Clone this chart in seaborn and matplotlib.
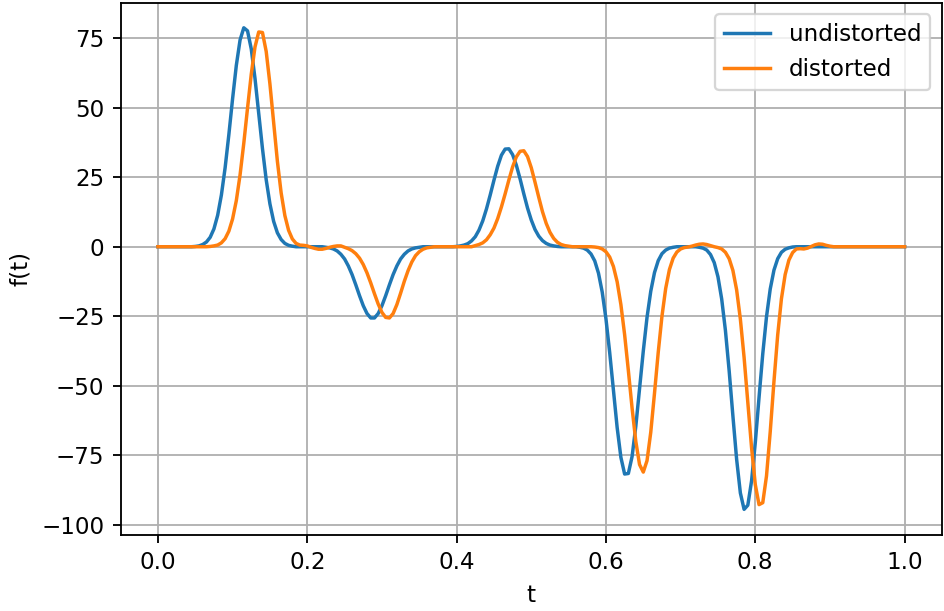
import numpy as np
import matplotlib
matplotlib.use("Agg")
import matplotlib.pyplot as plt
import seaborn as sns

# sample times: 0.000, 0.005, ..., 1.000
t_start, t_stop, n_samples = 0.0, 1.0, 201

# undistorted signal (10 samples per row)
undistorted = [
    0, 0, 0, 0, 0, 0, 0, 0, 0, 0,
    0.1, 0.3, 0.8, 1.7, 3.4, 6.4, 11.3, 18.6, 28.4, 40.3,
    53.2, 65.2, 74.3, 78.7, 77.6, 71.1, 60.5, 47.9, 35.3, 24.1,
    15.4, 9.1, 5.0, 2.6, 1.2, 0.5, 0.2, 0, 0, 0,
    0, 0, 0, 0, 0, -0.2, -0.4, -0.8, -1.5, -2.7,
    -4.4, -6.9, -10.0, -13.7, -17.6, -21.2, -24.0, -25.6, -25.6, -24.0,
    -21.2, -17.6, -13.7, -10.0, -6.9, -4.4, -2.7, -1.5, -0.8, -0.4,
    -0.2, 0, 0, 0, 0, 0, 0, 0, 0, 0,
    0.1, 0.3, 0.6, 1.1, 2.1, 3.6, 6.0, 9.3, 13.6, 18.6,
    23.9, 28.9, 32.9, 35.1, 35.2, 33.1, 29.3, 24.4, 19.0, 13.9,
    9.6, 6.2, 3.8, 2.2, 1.2, 0.6, 0.3, 0.1, 0, 0,
    0, 0, 0, -0.2, -0.5, -1.2, -2.6, -5.1, -9.5, -16.3,
    -25.9, -38.0, -51.6, -65.0, -75.7, -81.7, -81.5, -75.4, -64.5, -51.1,
    -37.5, -25.4, -16.0, -9.3, -5.0, -2.5, -1.2, -0.5, -0.2, 0,
    0, 0, 0, 0, 0, -0.2, -0.5, -1.2, -2.8, -5.7,
    -10.8, -18.8, -30.1, -44.6, -60.8, -76.4, -88.5, -94.4, -92.9, -84.2,
    -70.4, -54.2, -38.5, -25.2, -15.2, -8.4, -4.3, -2.0, -0.9, -0.4,
    -0.1, 0, 0, 0, 0, 0, 0, 0, 0, 0,
    0, 0, 0, 0, 0, 0, 0, 0, 0, 0,
    0, 0, 0, 0, 0, 0, 0, 0, 0, 0,
    0,
]

# distorted signal (shifted, slightly skewed, small ringing)
distorted = [
    0, 0, 0, 0, 0, 0, 0, 0, 0, 0,
    0, 0, 0, 0, 0.1, 0.3, 0.6, 1.4, 2.9, 5.6,
    10.0, 16.6, 25.8, 37.2, 49.8, 62.0, 71.8, 77.2, 77.0, 70.2,
    58.5, 44.4, 30.7, 19.4, 11.2, 5.9, 2.8, 1.2, 0.6, 0.5,
    0.3, -0.2, -0.6, -0.9, -0.9, -0.6, -0.2, 0.1, 0.3, 0.3,
    -0.2, -0.7, -1.4, -2.5, -4.1, -6.4, -9.4, -13.0, -16.9, -20.6,
    -23.6, -25.4, -25.6, -24.0, -20.8, -16.7, -12.4, -8.6, -5.5, -3.2,
    -1.8, -0.9, -0.4, -0.2, 0, 0, 0, 0, 0, 0,
    0, 0, 0, 0, 0, 0.4, 0.8, 1.4, 2.5, 4.3,
    6.7, 10.1, 14.3, 19.0, 24.0, 28.7, 32.3, 34.3, 34.5, 32.4,
    28.4, 23.2, 17.8, 12.6, 8.4, 5.2, 3.0, 1.6, 0.8, 0.4,
    0.2, 0, 0, 0, 0, 0, 0, -0.1, -0.3, -0.8,
    -1.8, -3.7, -7.1, -12.6, -20.8, -31.6, -44.5, -58.0, -70.0, -78.3,
    -81.0, -76.9, -66.7, -52.7, -38.0, -25.0, -15.0, -8.2, -4.1, -1.9,
    -0.8, -0.3, -0.1, 0.2, 0.6, 0.9, 1.0, 0.8, 0.4, 0.0,
    -0.3, -0.8, -2.0, -4.3, -8.5, -15.5, -26.0, -39.8, -56.0, -72.2,
    -85.5, -92.7, -92.0, -82.4, -66.5, -48.4, -31.7, -18.7, -10.0, -4.8,
    -2.1, -0.8, -0.7, -0.8, -0.5, 0.1, 0.7, 1.0, 0.9, 0.5,
    0.2, 0, 0, 0, 0, 0, 0, 0, 0, 0,
    0, 0, 0, 0, 0, 0, 0, 0, 0, 0,
    0,
]

labels = ["undistorted", "distorted"]
colors = ["#1f77b4", "#ff7f0e"]

t = np.linspace(t_start, t_stop, n_samples)

dpi = 165.6
fig = plt.figure(figsize=(945 / dpi, 611 / dpi), dpi=dpi)
ax = fig.add_axes([0.1276, 0.124, 0.8692, 0.8715])

for series, lab, col in zip([undistorted, distorted], labels, colors):
    sns.lineplot(x=t, y=series, label=lab, color=col, linewidth=1.5, ax=ax)

ax.set_xlim(-0.05, 1.05)
ax.set_ylim(-103.7, 87.7)
ax.set_xticks([0.0, 0.2, 0.4, 0.6, 0.8, 1.0])
ax.set_yticks([-100, -75, -50, -25, 0, 25, 50, 75])
ax.grid(True, color="#b0b0b0", linewidth=0.8)
ax.set_axisbelow(True)
ax.set_xlabel("t")
ax.set_ylabel("f(t)")
ax.legend(loc="upper right")

fig.savefig("out.png", dpi=dpi)
